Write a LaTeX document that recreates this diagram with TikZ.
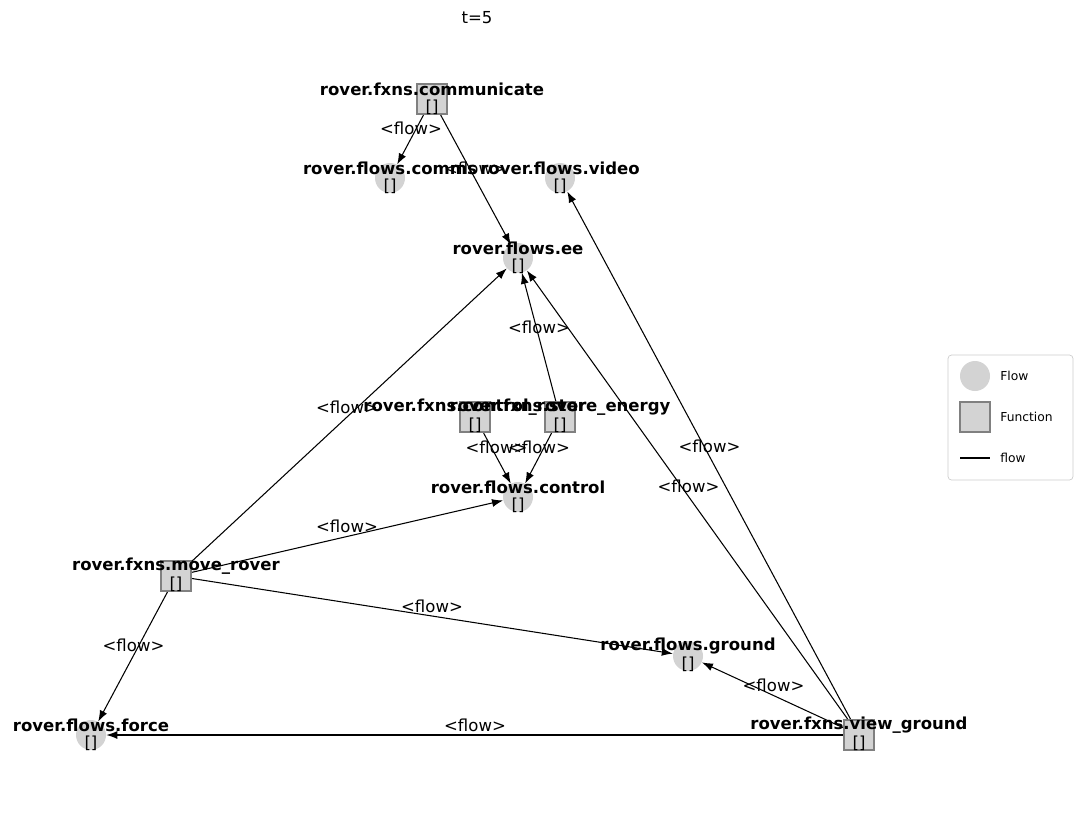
\documentclass[tikz,border=0pt]{standalone}
\usepackage{fontspec}
\setmainfont{DejaVu Sans}
\usetikzlibrary{arrows.meta,calc}

\begin{document}
\begin{tikzpicture}[
    flowc/.style={circle, fill={rgb,255:red,211;green,211;blue,211}, minimum size=0.6cm, inner sep=0pt},
    fxn/.style={rectangle, fill={rgb,255:red,211;green,211;blue,211}, draw=gray, line width=1.2pt, minimum size=0.6cm, inner sep=0pt},
    nm/.style={font=\fontsize{9.4}{10}\selectfont\bfseries, inner sep=0pt},
    br/.style={font=\fontsize{9.4}{10}\selectfont, inner sep=0pt},
    elab/.style={font=\fontsize{9.4}{10}\selectfont, inner sep=0pt},
    edge/.style={-{Latex[length=2.2mm,width=1.6mm]}, line width=0.6pt}
]
    \useasboundingbox (0,0) rectangle (21.64,-16.24);
    \node[br] (title) at (9.54,-0.36) {t=5};
    % flows
    \node[flowc] (comms) at (7.80,-3.56) {};
    \node[flowc] (video) at (11.20,-3.56) {};
    \node[flowc] (ee) at (10.36,-5.16) {};
    \node[flowc] (control) at (10.36,-9.94) {};
    \node[flowc] (ground) at (13.76,-13.12) {};
    \node[flowc] (force) at (1.82,-14.70) {};
    % functions
    \node[fxn] (communicate) at (8.64,-1.98) {};
    \node[fxn] (controlrover) at (9.50,-8.34) {};
    \node[fxn] (storeenergy) at (11.20,-8.34) {};
    \node[fxn] (moverover) at (3.52,-11.52) {};
    \node[fxn] (viewground) at (17.18,-14.70) {};
    % edges
    \foreach \a/\b in {communicate/comms, communicate/ee, viewground/video, viewground/ee,
        storeenergy/ee, moverover/ee, controlrover/control, storeenergy/control,
        moverover/control, moverover/ground, moverover/force, viewground/ground, viewground/force}
    {
        \draw[edge] (\a) -- (\b);
        \node[elab] (l-\a-\b) at ($(\a)!0.5!(\b)+(0,0.2)$) {<flow>};
    }
    % names and values
    \foreach \n/\t in {comms/rover.flows.comms, video/rover.flows.video, ee/rover.flows.ee,
        control/rover.flows.control, ground/rover.flows.ground, force/rover.flows.force,
        communicate/rover.fxns.communicate, controlrover/rover.fxns.control\_rover,
        storeenergy/rover.fxns.store\_energy, moverover/rover.fxns.move\_rover,
        viewground/rover.fxns.view\_ground}
    {
        \node[nm] (t-\n) at ($(\n)+(0,0.2)$) {\t};
        \node[br] (v-\n) at ($(\n)+(0,-0.17)$) {[]};
    }
    % legend
    \draw[draw={rgb,255:red,204;green,204;blue,204}, fill=white, rounded corners=2pt] (18.96,-7.10) rectangle (21.46,-9.60);
    \node[flowc] (lgflow) at (19.50,-7.52) {};
    \node[br, anchor=west, font=\fontsize{7}{8}\selectfont] (lgflowt) at (20.00,-7.52) {Flow};
    \node[fxn] (lgfxn) at (19.50,-8.34) {};
    \node[br, anchor=west, font=\fontsize{7}{8}\selectfont] (lgfxnt) at (20.00,-8.34) {Function};
    \coordinate (lga) at (19.20,-9.16);
    \coordinate (lgb) at (19.80,-9.16);
    \draw[line width=0.8pt] (lga) -- (lgb);
    \node[br, anchor=west, font=\fontsize{7}{8}\selectfont] (lgedget) at (20.00,-9.16) {flow};
\end{tikzpicture}
\end{document}
